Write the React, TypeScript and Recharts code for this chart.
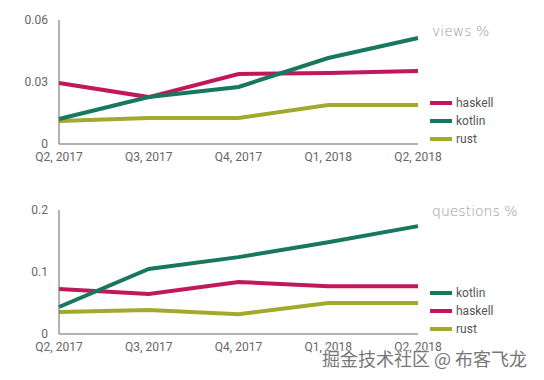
import React from 'react';
import { LineChart, Line, XAxis, YAxis } from 'recharts';

const quarters = ['Q2, 2017', 'Q3, 2017', 'Q4, 2017', 'Q1, 2018', 'Q2, 2018'];

const viewsHaskell = [0.0295, 0.0227, 0.0339, 0.0344, 0.0353];
const viewsKotlin = [0.0121, 0.0227, 0.0276, 0.0416, 0.0513];
const viewsRust = [0.0111, 0.0126, 0.0126, 0.0189, 0.0189];

const questionsKotlin = [0.0435, 0.105, 0.124, 0.148, 0.174];
const questionsHaskell = [0.0726, 0.0645, 0.084, 0.077, 0.077];
const questionsRust = [0.0355, 0.0387, 0.032, 0.05, 0.05];

const viewsTicks = [0, 0.03, 0.06];
const questionsTicks = [0, 0.1, 0.2];

const COLORS: Record<string, string> = {
  haskell: '#c2185b',
  kotlin: '#17785f',
  rust: '#a2aa2e',
};

const viewsData = quarters.map((q, i) => ({
  q,
  haskell: viewsHaskell[i],
  kotlin: viewsKotlin[i],
  rust: viewsRust[i],
}));

const questionsData = quarters.map((q, i) => ({
  q,
  kotlin: questionsKotlin[i],
  haskell: questionsHaskell[i],
  rust: questionsRust[i],
}));

const tickStyle = { fill: '#666', fontSize: 12, fontFamily: 'Roboto' };

function LegendBlock({ items, top }: { items: string[]; top: number }) {
  return (
    <>
      {items.map((name, i) => (
        <div
          key={name}
          style={{
            position: 'absolute',
            left: 430,
            top: top + i * 18 - 8,
            height: 16,
            display: 'flex',
            alignItems: 'center',
            fontFamily: 'Roboto',
            fontSize: 12,
            color: '#555',
          }}
        >
          <div style={{ width: 22, height: 4, background: COLORS[name], marginRight: 4 }} />
          <span>{name}</span>
        </div>
      ))}
    </>
  );
}

function Panel({ data, ticks, domainMax, order }: { data: any[]; ticks: number[]; domainMax: number; order: string[] }) {
  return (
    <LineChart width={544} height={190} data={data} margin={{ top: 20, right: 126, left: 14, bottom: 16 }}>
      <XAxis
        dataKey="q"
        tickLine={false}
        axisLine={{ stroke: '#666' }}
        tick={tickStyle}
        height={30}
        interval={0}
      />
      <YAxis
        width={45}
        domain={[0, domainMax]}
        ticks={ticks}
        tickLine={false}
        axisLine={{ stroke: '#666' }}
        tick={tickStyle}
        tickMargin={5}
      />
      {order.map((k) => (
        <Line
          key={k}
          type="linear"
          dataKey={k}
          stroke={COLORS[k]}
          strokeWidth={4}
          dot={false}
          isAnimationActive={false}
        />
      ))}
    </LineChart>
  );
}

export default function App() {
  return (
    <div style={{ position: 'absolute', left: 0, top: 0, width: 544, height: 380, background: '#fff' }}>
      <div style={{ position: 'absolute', left: 0, top: 0 }}>
        <Panel data={viewsData} ticks={viewsTicks} domainMax={0.06} order={['rust', 'haskell', 'kotlin']} />
      </div>
      <div style={{ position: 'absolute', left: 0, top: 190 }}>
        <Panel data={questionsData} ticks={questionsTicks} domainMax={0.2} order={['rust', 'haskell', 'kotlin']} />
      </div>
      <div style={{ position: 'absolute', left: 432, top: 23, fontFamily: 'DejaVu Sans', fontWeight: 300, fontSize: 14, color: '#999' }}>
        views %
      </div>
      <div style={{ position: 'absolute', left: 432, top: 203, fontFamily: 'DejaVu Sans', fontWeight: 300, fontSize: 14, color: '#999' }}>
        questions %
      </div>
      <LegendBlock items={['haskell', 'kotlin', 'rust']} top={103} />
      <LegendBlock items={['kotlin', 'haskell', 'rust']} top={293} />
      <div
        style={{
          position: 'absolute',
          left: 322,
          top: 345,
          fontFamily: 'Noto Sans CJK SC',
          fontSize: 18,
          color: '#777',
          whiteSpace: 'nowrap',
          textShadow: '0 0 2px #fff, 0 0 2px #fff, 0 0 2px #fff',
        }}
      >
        掘金技术社区 @ 布客飞龙
      </div>
    </div>
  );
}
